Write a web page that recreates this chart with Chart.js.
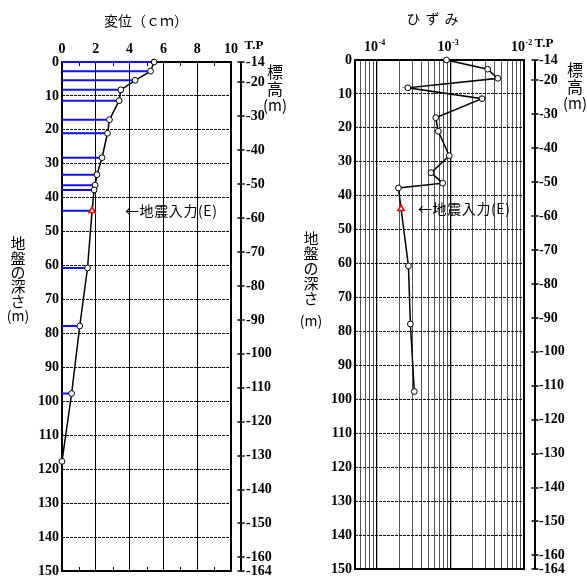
<!DOCTYPE html>
<html>
<head>
<meta charset="utf-8">
<script src="https://cdn.jsdelivr.net/npm/chart.js@4/dist/chart.umd.min.js"></script>
<style>
  html, body { margin: 0; padding: 0; background: #fff; }
  #wrap { position: relative; width: 587px; height: 577px; overflow: hidden; }
  canvas { position: absolute; top: 0; }
  #dispCanvas { left: 0; }
  #strainCanvas { left: 293px; }
</style>
</head>
<body>
<div id="wrap">
  <canvas id="dispCanvas" width="293" height="577" style="width:293px;height:577px"></canvas>
  <canvas id="strainCanvas" width="294" height="577" style="width:294px;height:577px"></canvas>
</div>
<script>
// Depth of each output level below ground surface (m)
const depths = [0, 2.7, 5.4, 8.2, 11.4, 17.0, 21.0, 28.2, 33.2, 36.3, 37.7, 43.8, 60.7, 77.8, 97.7, 117.7];
// Peak horizontal displacement at each level (cm)
const displacement = [5.45, 5.24, 4.33, 3.48, 3.38, 2.81, 2.69, 2.37, 2.07, 1.96, 1.90, 1.78, 1.51, 1.05, 0.57, 0.0];
// Peak shear strain at each level (-)
const strain = [8.8e-4, 3.2e-3, 4.4e-3, 2.62e-4, 2.68e-3, 6.28e-4, 6.81e-4, 9.6e-4, 5.42e-4, 7.81e-4, 1.95e-4, 2.12e-4, 2.67e-4, 2.84e-4, 3.21e-4];
// Level where the seismic input (E) is applied
const inputIndex = 11;

// Axis ticks
const depthTicks = [0, 10, 20, 30, 40, 50, 60, 70, 80, 90, 100, 110, 120, 130, 140, 150];
const elevationTicks = [-14, -20, -30, -40, -50, -60, -70, -80, -90, -100, -110, -120, -130, -140, -150, -160, -164];
const dispTicks = [0, 2, 4, 6, 8, 10];
const dispMinorTicks = [1, 3, 5, 7, 9];
const strainTicks = [
  5e-5, 6e-5, 7e-5, 8e-5, 9e-5,
  1e-4, 2e-4, 3e-4, 4e-4, 5e-4, 6e-4, 7e-4, 8e-4, 9e-4,
  1e-3, 2e-3, 3e-3, 4e-3, 5e-3, 6e-3, 7e-3, 8e-3, 9e-3,
  1e-2
];
const strainDecades = [1e-4, 1e-3, 1e-2];

// Ground surface is at T.P -14 m
const surfaceElevation = -14;
const bottomDepth = 150;

const NUM_FONT = "'Liberation Serif', 'Times New Roman', 'DejaVu Serif', serif";
const JP_FONT = "'Noto Sans CJK JP', 'Noto Sans', sans-serif";
const TICK_FONT = { family: NUM_FONT, size: 14, weight: 'bold', lineHeight: 0.8 };
const CLEAR = 'rgba(0,0,0,0)';

function isDecade(v) {
  const l = Math.log10(v);
  return Math.abs(l - Math.round(l)) < 1e-9;
}

// stacked (top-to-bottom) axis name; the last entry "(m)" is set a little smaller
function verticalText(ctx, chars, x, y0, step, lastY, size) {
  ctx.textAlign = 'center';
  ctx.textBaseline = 'middle';
  chars.forEach((c, i) => {
    const last = i === chars.length - 1;
    ctx.font = (last ? size - 1 : size) + 'px ' + JP_FONT;
    const y = (last && lastY != null) ? lastY : y0 + i * step;
    ctx.fillText(c, x, y);
  });
}

function decorPlugin(o) {
  return {
    id: 'decor',
    beforeDatasetsDraw(chart) {
      const { ctx, chartArea: a, scales } = chart;
      ctx.save();
      ctx.strokeStyle = '#000';
      if (o.minorTicks) {
        ctx.lineWidth = 1;
        ctx.beginPath();
        o.minorTicks.forEach(v => {
          const x = Math.round(scales.x.getPixelForValue(v)) + 0.5;
          ctx.moveTo(x, a.top); ctx.lineTo(x, a.top + 4);
          ctx.moveTo(x, a.bottom); ctx.lineTo(x, a.bottom - 4);
        });
        ctx.stroke();
      }
      // plot frame
      ctx.lineWidth = 2;
      ctx.strokeRect(a.left, a.top, a.right - a.left, a.bottom - a.top);
      ctx.restore();
    },
    afterDraw(chart) {
      const { ctx, chartArea: a, scales } = chart;
      const y2 = scales.y2;
      ctx.save();
      // T.P elevation axis
      const ax = a.right + o.tpOffset;
      ctx.strokeStyle = '#000';
      ctx.lineWidth = 2;
      ctx.beginPath();
      ctx.moveTo(ax, y2.getPixelForValue(elevationTicks[0]));
      ctx.lineTo(ax, y2.getPixelForValue(elevationTicks[elevationTicks.length - 1]));
      ctx.stroke();
      ctx.lineWidth = 1.5;
      ctx.beginPath();
      elevationTicks.forEach(v => {
        const y = Math.round(y2.getPixelForValue(v));
        ctx.moveTo(ax - 3.5, y); ctx.lineTo(ax + 3.5, y);
      });
      ctx.stroke();

      ctx.fillStyle = '#000';
      ctx.font = 'bold 13px ' + NUM_FONT;
      ctx.textAlign = 'center';
      ctx.textBaseline = 'middle';
      ctx.fillText('T.P', o.tpLabelX, a.top - 16);

      // power-of-ten labels on the strain axis
      if (o.decades) {
        o.decades.forEach(v => {
          const x = scales.x.getPixelForValue(v);
          const exp = String(Math.round(Math.log10(v)));
          ctx.font = 'bold 14px ' + NUM_FONT;
          ctx.textAlign = 'right';
          ctx.fillText('10', x + 1, a.top - 12.5);
          ctx.font = 'bold 8px ' + NUM_FONT;
          ctx.textAlign = 'left';
          ctx.fillText(exp, x + 1.5, a.top - 17.5);
        });
      }

      // title
      ctx.font = o.titleSize + 'px ' + JP_FONT;
      ctx.textAlign = 'center';
      ctx.textBaseline = 'middle';
      const chars = [...o.title];
      chars.forEach((c, i) => {
        ctx.fillText(c, o.titleX + (i - (chars.length - 1) / 2) * o.titleSpacing, o.titleY);
      });

      // vertical axis names
      verticalText(ctx, ['地', '盤', 'の', '深', 'さ', '(m)'], 18, o.depthLabelY, o.depthLabelStep, o.depthLabelLast, 15);
      verticalText(ctx, ['標', '高', '(m)'], o.elevLabelX, a.top + 10, 16.7, null, 16);

      // seismic input annotation
      ctx.font = '14px ' + JP_FONT;
      ctx.letterSpacing = '0.6px';
      ctx.textAlign = 'left';
      ctx.textBaseline = 'middle';
      ctx.fillText('←地震入力(E)', 125, scales.y.getPixelForValue(depths[inputIndex]));
      ctx.restore();
    }
  };
}

function depthScale() {
  return {
    y: {
      type: 'linear', position: 'left', reverse: true, min: 0, max: bottomDepth,
      afterBuildTicks: s => { s.ticks = depthTicks.map(v => ({ value: v })); },
      afterFit: s => { s.width = 62; },
      ticks: { font: TICK_FONT, color: '#000', padding: 0, autoSkip: false },
      grid: { color: '#111', lineWidth: 1, drawTicks: true, tickLength: 3, tickColor: CLEAR },
      border: { display: false, dash: [3, 1] }
    },
    y2: {
      type: 'linear', position: 'right',
      min: surfaceElevation - bottomDepth, max: surfaceElevation,
      afterBuildTicks: s => { s.ticks = elevationTicks.map(v => ({ value: v })); },
      afterFit: s => { s.width = 62; },
      ticks: { font: TICK_FONT, color: '#000', padding: 0, autoSkip: false, callback: v => String(v) },
      grid: { display: true, drawOnChartArea: false, drawTicks: true, tickLength: 15, tickColor: CLEAR },
      border: { display: false }
    }
  };
}

const markerStyle = {
  pointStyle: c => c.dataIndex === inputIndex ? 'triangle' : 'circle',
  pointRadius: c => c.dataIndex === inputIndex ? 3.6 : 2.9,
  pointBorderColor: c => c.dataIndex === inputIndex ? '#ff0000' : '#000',
  pointBorderWidth: c => c.dataIndex === inputIndex ? 1.6 : 1,
  pointBackgroundColor: '#fff'
};

const common = {
  responsive: false,
  animation: false,
  devicePixelRatio: 1,
  events: [],
  plugins: { legend: { display: false }, tooltip: { enabled: false }, title: { display: false } }
};

// ---- Displacement profile ----
const leaders = [];
depths.forEach((d, i) => {
  if (displacement[i] > 0) {
    leaders.push({ x: 0, y: d }, { x: displacement[i], y: d }, { x: NaN, y: NaN });
  }
});

new Chart(document.getElementById('dispCanvas'), {
  type: 'scatter',
  data: {
    datasets: [
      {
        data: leaders, showLine: true, borderColor: '#1010f2', borderWidth: 2,
        pointRadius: 0, spanGaps: false, order: 2, clip: false
      },
      Object.assign({
        data: depths.map((d, i) => ({ x: displacement[i], y: d })),
        showLine: true, borderColor: '#000', borderWidth: 1.5, order: 1, clip: false
      }, markerStyle)
    ]
  },
  options: Object.assign({}, common, {
    layout: { padding: { top: 0, left: 0, right: 0, bottom: 6 } },
    scales: Object.assign({
      x: {
        type: 'linear', position: 'top', min: 0, max: 10,
        afterBuildTicks: s => { s.ticks = dispTicks.map(v => ({ value: v })); },
        afterFit: s => { s.height = 62; },
        ticks: { font: TICK_FONT, color: '#000', padding: 7, maxRotation: 0, autoSkip: false },
        grid: { color: '#000', lineWidth: 1, drawTicks: false },
        border: { display: false }
      }
    }, depthScale())
  }),
  plugins: [decorPlugin({
    title: '変位（ｃｍ）', titleSize: 14, titleX: 146, titleSpacing: 14, titleY: 21,
    minorTicks: dispMinorTicks, tpOffset: 10, tpLabelX: 254,
    depthLabelY: 243.5, depthLabelStep: 14.4, depthLabelLast: 316,
    elevLabelX: 275
  })]
});

// ---- Strain profile ----
new Chart(document.getElementById('strainCanvas'), {
  type: 'scatter',
  data: {
    datasets: [
      Object.assign({
        data: strain.map((s, i) => ({ x: s, y: depths[i] })),
        showLine: true, borderColor: '#000', borderWidth: 1.5, clip: false
      }, markerStyle)
    ]
  },
  options: Object.assign({}, common, {
    layout: { padding: { top: 0, left: 0, right: 1, bottom: 8 } },
    scales: Object.assign({
      x: {
        type: 'logarithmic', position: 'top', min: strainTicks[0], max: strainTicks[strainTicks.length - 1],
        afterBuildTicks: s => { s.ticks = strainTicks.map(v => ({ value: v })); },
        afterFit: s => { s.height = 60; },
        ticks: { font: TICK_FONT, color: '#000', padding: 6, maxRotation: 0, autoSkip: false, callback: () => '' },
        grid: {
          color: c => (c.tick && isDecade(c.tick.value)) ? '#000' : '#555',
          lineWidth: c => (c.tick && isDecade(c.tick.value)) ? 1.3 : 1,
          drawTicks: false
        },
        border: { display: false }
      }
    }, depthScale())
  }),
  plugins: [decorPlugin({
    title: 'ひずみ', titleSize: 14, titleX: 139.5, titleSpacing: 19, titleY: 19,
    decades: strainDecades,
    tpOffset: 11, tpLabelX: 251,
    depthLabelY: 238, depthLabelStep: 15, depthLabelLast: 321,
    elevLabelX: 282
  })]
});
</script>
</body>
</html>
